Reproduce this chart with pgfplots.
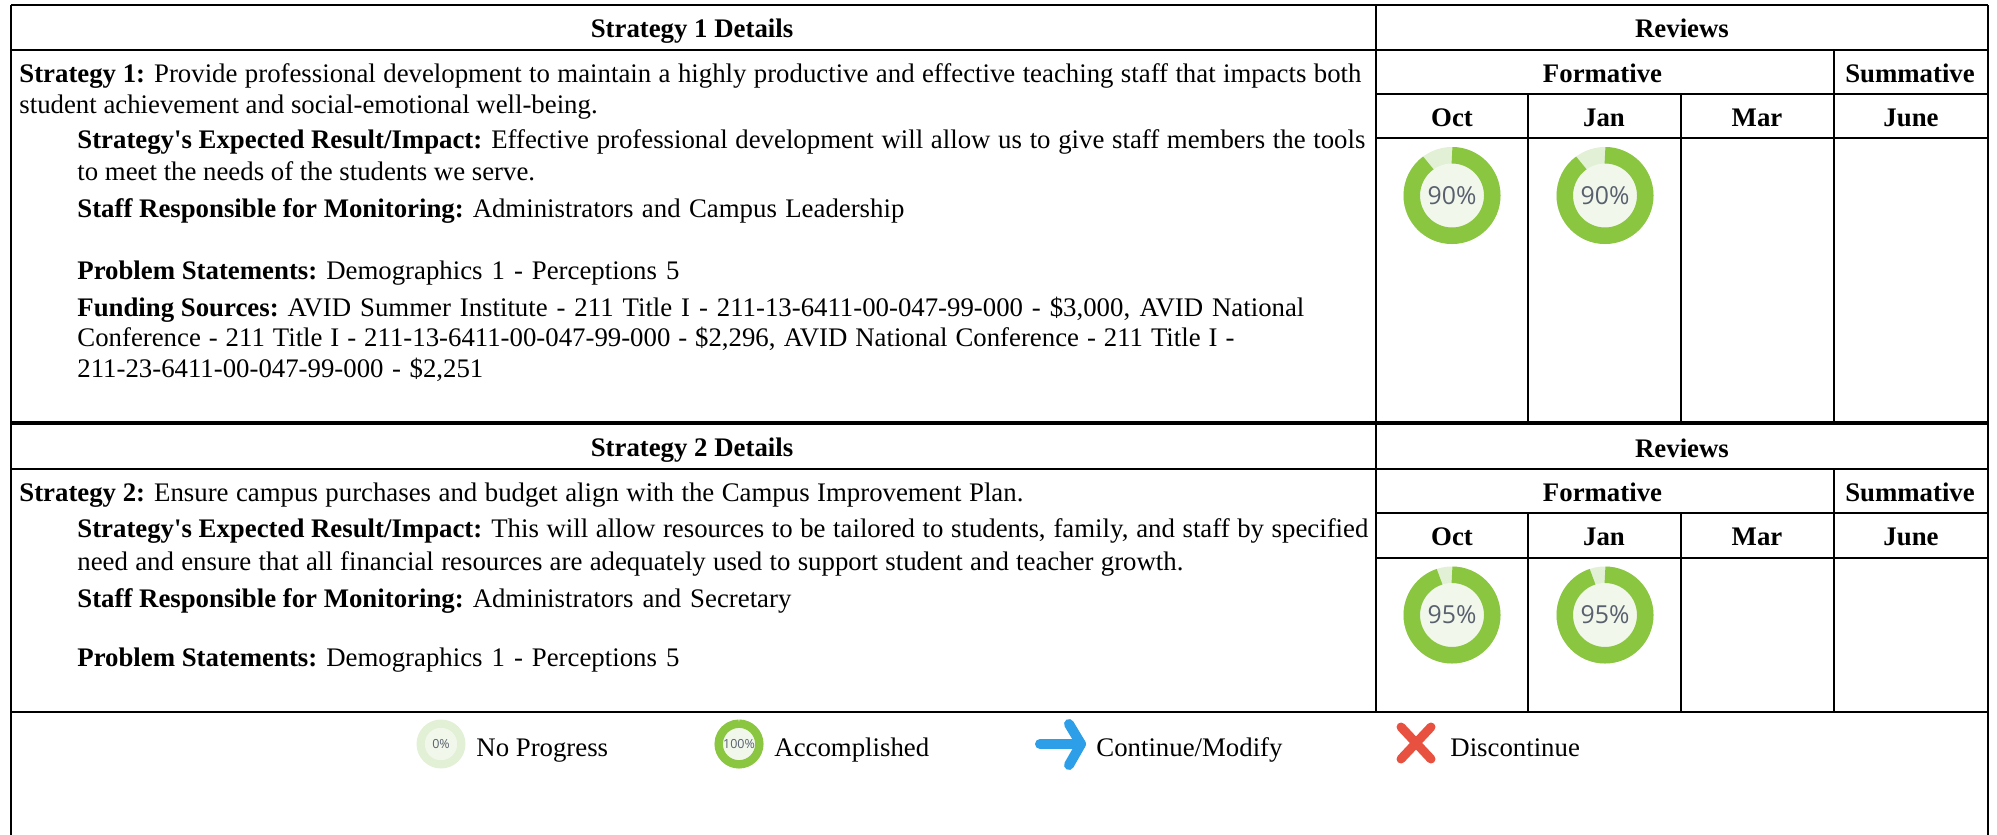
\documentclass[border=0pt]{standalone}
\usepackage{fontspec}
\newfontfamily\rmf{Liberation Serif}
\newfontfamily\donutfont{Open Sans}
\usepackage{pgfplots}
\pgfplotsset{compat=1.18}
\definecolor{dgreen}{RGB}{138,198,63}
\definecolor{lgreen}{RGB}{226,240,214}
\definecolor{cgreen}{RGB}{241,247,235}
\definecolor{dtext}{RGB}{88,96,110}
\definecolor{arrowblue}{RGB}{44,159,232}
\definecolor{xred}{RGB}{232,81,63}
\newcommand{\drawdonut}[2]{%
    \edef\pct{#2}%
    \pgfmathsetmacro{\ro}{#1*0.5}%
    \pgfmathsetmacro{\ri}{#1*0.5*0.66}%
    \pgfmathsetmacro{\rmid}{(\ro+\ri)/2}%
    \pgfmathsetmacro{\lw}{\ro-\ri}%
    \pgfmathsetmacro{\fs}{#1*0.2557}%
    \begin{scope}
    \fill[lgreen] (0,0) circle[radius=\ro pt];
    \fill[cgreen] (0,0) circle[radius=\ri pt];
    \ifdim\pct pt>0pt
    \draw[dgreen,line width=\lw pt] (0,\rmid pt) arc[start angle=90,delta angle=-3.6*\pct,radius=\rmid pt];
    \fi
    \node[inner sep=0pt,text=dtext,font=\donutfont\fontsize{\fs}{\fs}\selectfont] at (0,0) {\pct\%};
    \end{scope}%
}
\pgfplotsset{donut/.style={scatter,only marks,mark=*,mark size=0pt,draw=none,fill=none,forget plot,
  point meta=explicit symbolic,
  scatter/@pre marker code/.code={\drawdonut{#1}{\pgfplotspointmeta}},
  scatter/@post marker code/.code={}}}
\newcommand{\R}[5][1pt]{\addplot[black,line width=#1,forget plot,no markers] coordinates {(#2,#3)(#4,#5)};}
\newcommand{\T}[3]{\node[anchor=base west,inner sep=0pt,font=\rmf\fontsize{13.4}{16}\selectfont] at (axis cs:#1,#2) {#3};}
\newcommand{\J}[4]{\node[anchor=base west,inner sep=0pt,font=\rmf\fontsize{13.4}{16}\selectfont] at (axis cs:#1,#2) {\makebox[#3pt][s]{#4}};}
\newcommand{\C}[3]{\node[anchor=base,inner sep=0pt,font=\rmf\fontsize{13.4}{16}\selectfont\bfseries] at (axis cs:#1,#2) {#3};}
\newcommand{\B}[1]{\mbox{\textbf{#1}}\hspace{4.5pt}}
\begin{document}
\begin{tikzpicture}
\useasboundingbox (0,0) rectangle (998.5pt,417.5pt);
\begin{axis}[
  at={(0,0)},anchor=south west,
  scale only axis,width=998.5pt,height=417.5pt,
  xmin=0,xmax=1997,ymin=0,ymax=835,y dir=reverse,
  axis lines=none,clip=false,
]
% horizontal rules
\R{11}{5}{1988}{5}
\R{11}{50}{1988}{50}
\R{1376}{94}{1988}{94}
\R{1376}{138}{1988}{138}
\R[1.8pt]{11}{423}{1988}{423}
\R{11}{469}{1988}{469}
\R{1376}{513}{1988}{513}
\R{1376}{558}{1988}{558}
\R[1.2pt]{11}{712}{1988}{712}
% vertical rules
\R{11}{5}{11}{835}
\R{1988}{5}{1988}{835}
\R{1376}{5}{1376}{712}
\R{1528}{94}{1528}{423}
\R{1681}{94}{1681}{423}
\R{1834}{50}{1834}{423}
\R{1528}{513}{1528}{712}
\R{1681}{513}{1681}{712}
\R{1834}{469}{1834}{712}
% donuts
\addplot[donut=48.5] coordinates {(1452,195.5)[90] (1605,195.5)[90] (1452,615)[95] (1605,615)[95]};
\addplot[donut=24.5] coordinates {(441,744)[0] (739,744)[100]};
% legend icons
\addplot[arrowblue,line width=5pt,line cap=round,line join=round,no markers,forget plot] coordinates {(1040,744)(1081,744)};
\addplot[arrowblue,line width=5pt,line cap=round,line join=round,no markers,forget plot] coordinates {(1069,724)(1081,744)(1069,765)};
\addplot[xred,line width=4.5pt,line cap=round,no markers,forget plot] coordinates {(1401,727)(1431,759)};
\addplot[xred,line width=4.5pt,line cap=round,no markers,forget plot] coordinates {(1431,727)(1401,759)};
% headers
\C{692}{37}{Strategy 1 Details}
\C{1682}{37}{Reviews}
\C{1602.5}{82}{Formative}
\C{1910}{82}{Summative}
\C{1452}{126}{Oct}\C{1604}{126}{Jan}\C{1757}{126}{Mar}\C{1911}{126}{June}
\C{692}{456}{Strategy 2 Details}
\C{1682}{457}{Reviews}
\C{1602.5}{501}{Formative}
\C{1910}{501}{Summative}
\C{1452}{545}{Oct}\C{1604}{545}{Jan}\C{1757}{545}{Mar}\C{1911}{545}{June}
% strategy 1
\J{19}{82}{671}{\B{Strategy 1:}Provide professional development to maintain a highly productive and effective teaching staff that impacts both}
\T{19}{113}{student achievement and social-emotional well-being.}
\J{77}{148}{644}{\B{Strategy's Expected Result/Impact:}Effective professional development will allow us to give staff members the tools}
\T{77}{180}{to meet the needs of the students we serve.}
\J{77}{217}{413.5}{\B{Staff Responsible for Monitoring:}Administrators and Campus Leadership}
\J{77}{279}{301}{\B{Problem Statements:}Demographics 1 - Perceptions 5}
\J{77}{316}{613.5}{\B{Funding Sources:}AVID Summer Institute - 211 Title I - 211-13-6411-00-047-99-000 - \$3,000, AVID National}
\J{77}{346}{578.5}{Conference - 211 Title I - 211-13-6411-00-047-99-000 - \$2,296, AVID National Conference - 211 Title I -}
\J{77}{377}{203}{211-23-6411-00-047-99-000 - \$2,251}
% strategy 2
\J{19}{501}{502}{\B{Strategy 2:}Ensure campus purchases and budget align with the Campus Improvement Plan.}
\J{77}{537}{645.5}{\B{Strategy's Expected Result/Impact:}This will allow resources to be tailored to students, family, and staff by specified}
\J{77}{570}{553}{need and ensure that all financial resources are adequately used to support student and teacher growth.}
\J{77}{607}{357}{\B{Staff Responsible for Monitoring:}Administrators and Secretary}
\J{77}{666}{301}{\B{Problem Statements:}Demographics 1 - Perceptions 5}
% legend text
\T{476}{756}{No Progress}
\T{774}{756}{Accomplished}
\J{1096}{756}{93.5}{Continue/Modify}
\T{1450}{756}{Discontinue}
\end{axis}
\end{tikzpicture}
\end{document}
